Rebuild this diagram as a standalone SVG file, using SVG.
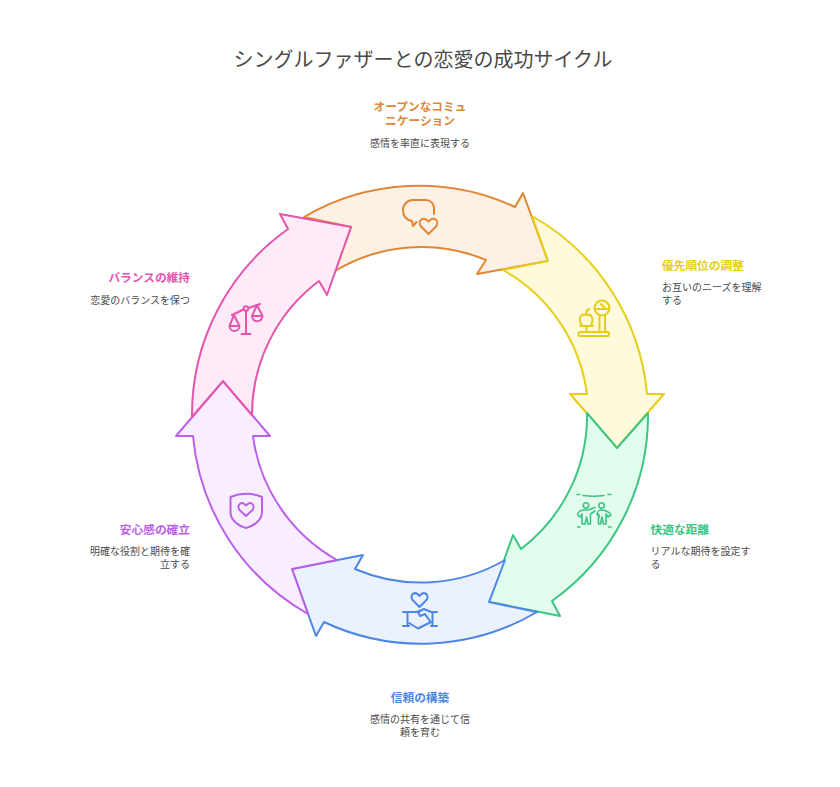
<svg xmlns="http://www.w3.org/2000/svg" width="840" height="787" viewBox="0 0 840 787">
<style>
text{font-family:"Noto Sans CJK JP","Noto Sans",sans-serif}
.t{font-size:20px;fill:#4a4a4a;text-anchor:middle}
.h{font-size:11.700px;font-weight:700}
.d{font-size:10px;fill:#4a4a4a}
.m{text-anchor:middle}
.e{text-anchor:end}
.a{stroke-width:2;stroke-linejoin:round}
.i{fill:none;stroke-width:2;stroke-linecap:round;stroke-linejoin:round}
.o{stroke:#e08735}.y{stroke:#e6cd17}.g{stroke:#3cc583}.b{stroke:#4e86e4}.p{stroke:#bc5fe8}.k{stroke:#e455ae}
</style>
<rect width="840" height="787" fill="#fff"/>
<text class="t" x="423" y="67">シングルファザーとの恋愛の成功サイクル</text>
<g id="node-communication">
<path class="a o" fill="#fff0e4" d="M304 217A228 228 0 0 1 515 207L523 193L548 261L477 274L486 260A167.500 167.500 0 0 0 335 271L351 227Z"/>
<g class="i o"><path d="M434 214V208a8 8 0 0 0-8-8H413a10 10 0 0 0-10 10v1a10 10 0 0 0 9 10l1 5 3.500-4"/><path d="M428.500 234L421 226.500C417 221 423 215.500 428.500 221.500C434 215.500 440 221 436 226.500Z"/></g>
<text class="h m" fill="#e08735" x="420" y="111"><tspan x="420">オープンなコミュ</tspan><tspan x="420" dy="14">ニケーション</tspan></text>
<text class="d m" x="420" y="147">感情を率直に表現する</text>
</g>
<g id="node-priority">
<path class="a y" fill="#fffadb" d="M532 216A228 228 0 0 1 647 394L664 394L617 448L570 394L587 394A167.500 167.500 0 0 0 503 270L548 261Z"/>
<g class="i y"><rect x="578.500" y="332" width="30.500" height="4" rx="1.500"/><path d="M599.500 332V315M605 332V315"/><circle cx="602" cy="308" r="7.500"/><path d="M595 309H609M601 304L605 308"/><path d="M580 326H593M586.500 326V332M582 325.500C578 320 580 313 586 315C592 313 594 320 591 325.500M586 315C586 312 587 310 589 309"/></g>
<text class="h" fill="#e6cd17" x="662" y="269.500">優先順位の調整</text>
<text class="d" x="662" y="291"><tspan x="662">お互いのニーズを理解</tspan><tspan x="662" dy="13">する</tspan></text>
</g>
<g id="node-distance">
<path class="a g" fill="#e1fdee" d="M648 413A228 228 0 0 1 552 601L560 616L489 602L513 535L521 549A167.500 167.500 0 0 0 587 413L617 448Z"/>
<g class="i g" style="stroke-width:1.600"><path d="M583 495.500Q593.500 497 604 495.500M577 494.500H579.500M608 494.500H611M577.500 527H580M608.500 527H611"/><circle cx="586" cy="505.500" r="2.700"/><circle cx="601.500" cy="505.500" r="2.700"/><path d="M577.500 515C578 511 582 510 585 510H588L595 507.500M577.500 515L580 517L582 514V524H585L586.500 517L588 524H590.500V514L595 511"/><path d="M597 515C597 511 600 510 601.500 510C603 510 609 511 611 515L608 517L606 514V524H603.500L602 517L600.500 524H598.500V514L599.500 517"/></g>
<text class="h" fill="#3cc583" x="650.500" y="533.500">快適な距離</text>
<text class="d" x="650.500" y="555"><tspan x="650.500">リアルな期待を設定す</tspan><tspan x="650.500" dy="13">る</tspan></text>
</g>
<g id="node-trust">
<path class="a b" fill="#eaf2ff" d="M537 612A228 228 0 0 1 324 622L316 636L292 569L363 555L355 569A167.500 167.500 0 0 0 505 560L489 602Z"/>
<g class="i b"><path d="M419.500 607L412.500 600C409 595 415 590 419.500 596C424 590 430 595 426.500 600Z"/><path d="M403 612H409M407.500 612V626M403 626H409M437 612H431M432.500 612V626M437 626H431"/><path d="M409 612H417L424 609L431 612M409 623L418 628.500L431 622M424 609L418 612.500L420 616L425 614L430 621"/></g>
<text class="h m" fill="#4e86e4" x="420" y="701.500">信頼の構築</text>
<text class="d m" x="420" y="723"><tspan x="420">感情の共有を通じて信</tspan><tspan x="420" dy="13">頼を育む</tspan></text>
</g>
<g id="node-security">
<path class="a p" fill="#f9eeff" d="M308 614A228 228 0 0 1 193 436L176 436L223 381L270 436L253 436A167.500 167.500 0 0 0 337 560L292 569Z"/>
<g class="i p"><path d="M230.500 497C240 493 252 493 262 497V512C262 520 254 526 246 528C238 526 230.500 520 230.500 512Z"/><path d="M246 516L239.500 510C236 505 242 500 246 505.500C250 500 256 505 252.500 510Z"/></g>
<text class="h e" fill="#bc5fe8" x="190" y="533.500">安心感の確立</text>
<text class="d e" x="190" y="555"><tspan x="190">明確な役割と期待を確</tspan><tspan x="190" dy="13">立する</tspan></text>
</g>
<g id="node-balance">
<path class="a k" fill="#ffeaf7" d="M192 417A228 228 0 0 1 288 229L280 214L351 227L327 295L319 281A167.500 167.500 0 0 0 252 415L223 381Z"/>
<g class="i k"><path d="M246 311V334M241.500 334H250.500M232 315L243.500 309.500M248.500 308L260 304"/><circle cx="246" cy="308.500" r="2.300"/><path d="M234 315L229.500 326H239.500ZM229.500 326a5 5 0 0 0 10 0"/><path d="M257 305L252 316H262.500ZM252 316a5.200 5.200 0 0 0 10.500 0"/></g>
<text class="h e" fill="#e455ae" x="190" y="281.500">バランスの維持</text>
<text class="d e" x="190" y="304">恋愛のバランスを保つ</text>
</g>
</svg>
